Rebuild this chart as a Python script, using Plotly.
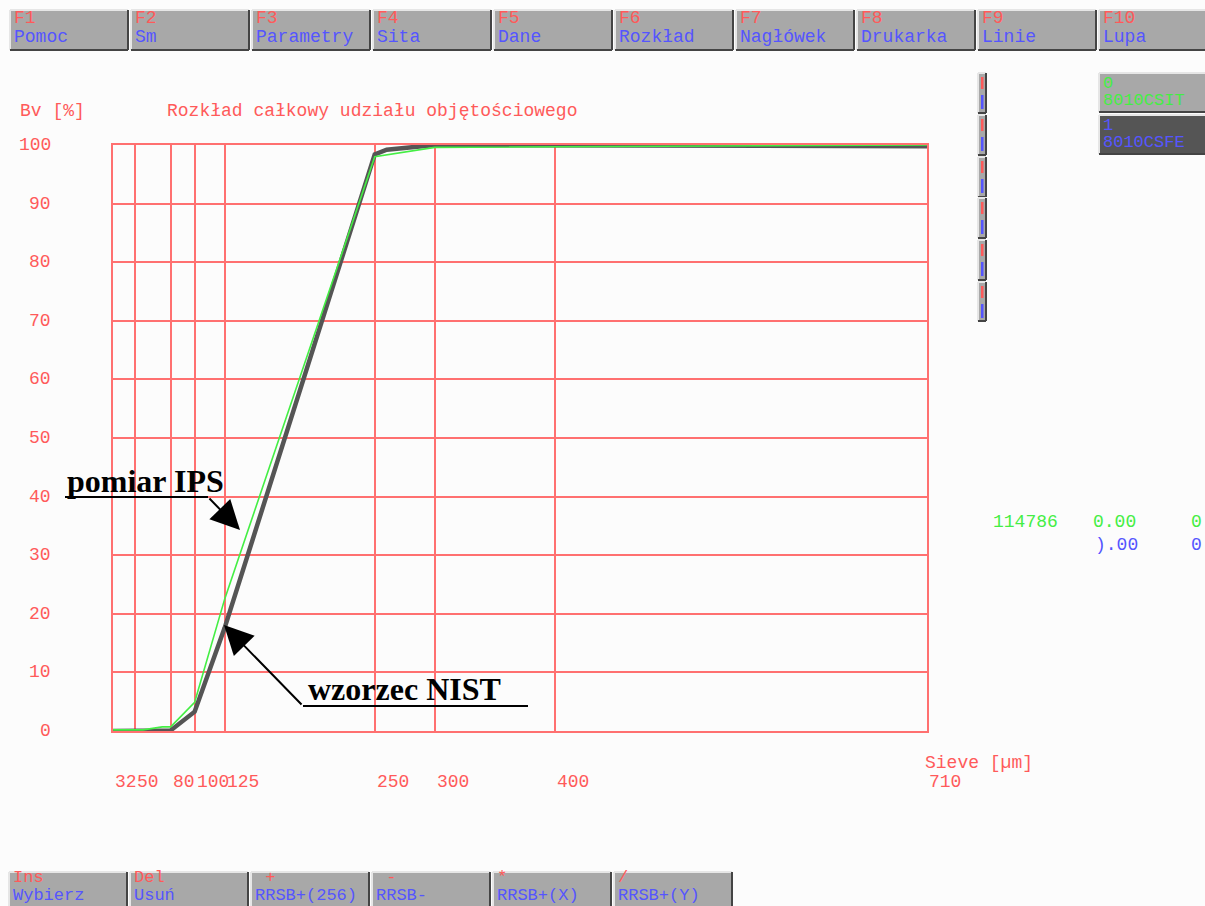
import plotly.graph_objects as go

# ---------------- data ----------------
x_ticks = [32, 50, 80, 100, 125, 250, 300, 400, 710]
x_tick_labels = ["32", "50", "80", "100", "125", "250", "300", "400", "710"]
y_ticks = [0, 10, 20, 30, 40, 50, 60, 70, 80, 90, 100]

nist_size = [32, 50, 80, 100, 125, 250, 260, 300, 710]
nist_cum = [0.0, 0.0, 0.1, 3.3, 17.6, 98.4, 99.2, 100.0, 99.8]

ips_size = [32, 57, 73, 80, 100, 125, 250, 300, 710]
ips_cum = [0.2, 0.2, 0.7, 0.7, 4.9, 22.5, 98.0, 99.6, 100.0]

top_keys = ["F1", "F2", "F3", "F4", "F5", "F6", "F7", "F8", "F9", "F10"]
top_names = ["Pomoc", "Sm", "Parametry", "Sita", "Dane", "Rozkład", "Nagłówek",
             "Drukarka", "Linie", "Lupa"]
bottom_keys = ["Ins", "Del", " +", " -", "*", "/"]
bottom_names = ["Wybierz", "Usuń", "RRSB+(256)", "RRSB-", "RRSB+(X)", "RRSB+(Y)"]

sample_ids = ["0", "1"]
sample_names = ["8010CSIT", "8010CSFE"]

# ---------------- layout helpers ----------------
W, H = 1205, 906
RED = "#ff5a5a"
BLUE = "#5555ff"
GREEN = "#44ee44"
GRID = "#ff7070"
MONO = "Liberation Mono"


def X(px):
    return px / W


def Y(py):
    return 1 - py / H


shapes = []
annotations = []


def button(x0, y0, x1, y1, fill):
    shapes.append(dict(type="rect", xref="paper", yref="paper",
                       x0=X(x0), x1=X(x1), y0=Y(y1), y1=Y(y0),
                       fillcolor=fill, line=dict(width=0), layer="below"))
    for (a, b, c, d, col) in [(x0, y0, x1, y0, "#e6e6e6"), (x0, y0, x0, y1, "#e6e6e6"),
                              (x0, y1, x1, y1, "#444444"), (x1, y0, x1, y1, "#444444")]:
        shapes.append(dict(type="line", xref="paper", yref="paper",
                           x0=X(a), x1=X(c), y0=Y(b), y1=Y(d),
                           line=dict(color=col, width=2), layer="below"))


def text(px, py, s, color, size=18, family=MONO, xanchor="left", bold=False):
    annotations.append(dict(xref="paper", yref="paper", x=X(px), y=Y(py),
                            text=("<b>%s</b>" % s) if bold else s, showarrow=False,
                            xanchor=xanchor, yanchor="middle",
                            font=dict(family=family, size=size, color=color)))


# top toolbar
for i, (k, n) in enumerate(zip(top_keys, top_names)):
    x0 = 10 + 121 * i
    button(x0, 10, min(x0 + 118, 1207), 50, "#a8a8a8")
    text(x0 + 2, 18, k, RED)
    text(x0 + 2, 37, n, BLUE)

# bottom toolbar
for i, (k, n) in enumerate(zip(bottom_keys, bottom_names)):
    x0 = 9 + 121 * i
    button(x0, 872, x0 + 118, 912, "#a8a8a8")
    text(x0 + 2, 877, k, RED, size=17)
    text(x0 + 2, 895, n, BLUE, size=17)

# right narrow buttons (clipped labels)
for y0, y1 in [(73, 113), (115, 155), (157, 197), (198, 238), (240, 280), (282, 321)]:
    button(978, y0, 986, y1, "#a8a8a8")
    shapes.append(dict(type="rect", xref="paper", yref="paper", x0=X(981), x1=X(983.5),
                       y0=Y(y0 + 16), y1=Y(y0 + 4), fillcolor=RED, line=dict(width=0)))
    shapes.append(dict(type="rect", xref="paper", yref="paper", x0=X(981), x1=X(983.5),
                       y0=Y(y0 + 36), y1=Y(y0 + 22), fillcolor=BLUE, line=dict(width=0)))

# sample legend buttons
button(1099, 73, 1207, 112, "#a8a8a8")
text(1101, 83, sample_ids[0], GREEN, size=17)
text(1101, 100, sample_names[0], GREEN, size=17)
button(1099, 115, 1207, 154, "#555555")
text(1101, 125, sample_ids[1], BLUE, size=17)
text(1101, 142, sample_names[1], BLUE, size=17)

# numbers at right
text(991, 522, "114786", GREEN)
text(1091, 522, "0.00", GREEN)
text(1189, 522, "0", GREEN)
text(1093, 545, ").00", BLUE)
text(1189, 545, "0", BLUE)

# titles
text(18, 111, "Bv [%]", RED)
text(165, 111, "Rozkład całkowy udziału objętościowego", RED)
text(923, 763, "Sieve [µm]", RED)

# axis labels
for v in y_ticks:
    annotations.append(dict(xref="paper", yref="y", x=X(53), y=v, text=str(v),
                            showarrow=False, xanchor="right", yanchor="middle",
                            font=dict(family=MONO, size=18, color=RED)))
for v, lab in zip(x_ticks, x_tick_labels):
    annotations.append(dict(xref="x", yref="paper", x=v, y=Y(782), text=lab,
                            showarrow=False, xanchor="left", yanchor="middle", xshift=0,
                            font=dict(family=MONO, size=18, color=RED)))

# callouts
SERIF = "Liberation Serif"
text(65, 481, "pomiar IPS", "black", size=32, family=SERIF, bold=True)
text(306, 689, "wzorzec NIST", "black", size=32, family=SERIF, bold=True)
for (a, b, c, d) in [(65, 497, 208, 497), (303, 706, 528, 706)]:
    shapes.append(dict(type="line", xref="paper", yref="paper", x0=X(a), x1=X(c),
                       y0=Y(b), y1=Y(d), line=dict(color="black", width=2)))
for (tx, ty, fx, fy) in [(240, 530, 208, 497), (224, 625, 303, 706)]:
    annotations.append(dict(xref="paper", yref="paper", x=X(tx), y=Y(ty), text="",
                            showarrow=True, ax=fx - tx, ay=fy - ty, axref="pixel",
                            ayref="pixel", arrowhead=2, arrowsize=2.9, arrowwidth=2,
                            arrowcolor="black", standoff=0, startstandoff=0))

fig = go.Figure()
fig.add_trace(go.Scatter(x=nist_size, y=nist_cum, mode="lines",
                         line=dict(color="#555555", width=4.5), name="wzorzec NIST",
                         cliponaxis=False))
fig.add_trace(go.Scatter(x=ips_size, y=ips_cum, mode="lines",
                         line=dict(color=GREEN, width=1.6), name="pomiar IPS",
                         cliponaxis=False))

fig.update_layout(
    width=W, height=H, margin=dict(l=0, r=0, t=0, b=0),
    paper_bgcolor="#fcfcfc", plot_bgcolor="#fcfcfc",
    showlegend=False,
    shapes=shapes, annotations=annotations,
    xaxis=dict(domain=[X(113), X(927)], range=[32, 710], tickvals=x_ticks,
               showticklabels=False, ticks="", showgrid=True, gridcolor=GRID,
               gridwidth=1.5, zeroline=False, showline=True, mirror=True,
               linecolor=GRID, linewidth=1.5),
    yaxis=dict(domain=[Y(731), Y(145)], range=[0, 100], tickvals=y_ticks,
               showticklabels=False, ticks="", showgrid=True, gridcolor=GRID,
               gridwidth=1.5, zeroline=False, showline=True, mirror=True,
               linecolor=GRID, linewidth=1.5),
)

fig.write_html("out.html")
